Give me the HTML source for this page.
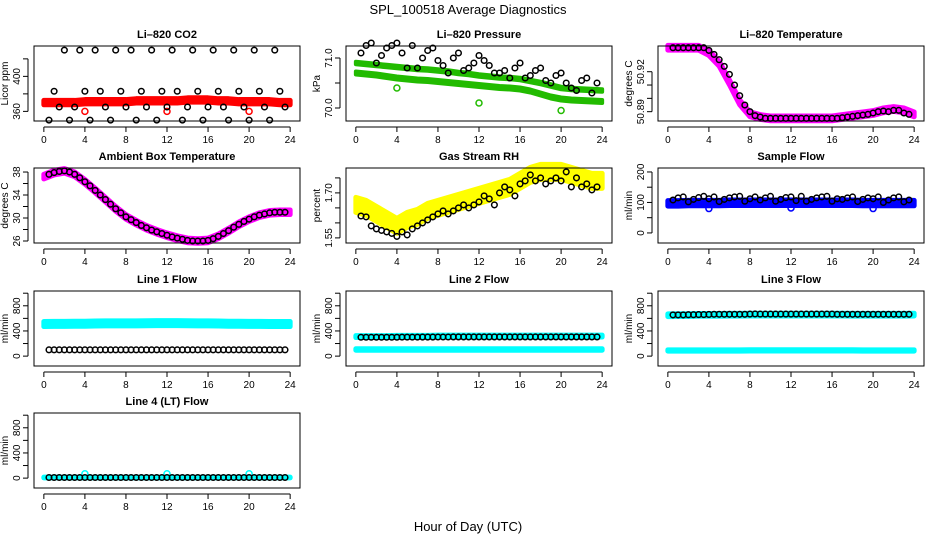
<!DOCTYPE html>
<html><head><meta charset="utf-8"><style>
html,body{margin:0;padding:0;background:#fff;}
svg{display:block;font-family:"Liberation Sans",sans-serif;}
</style></head><body>
<svg id="fig" width="936" height="540" viewBox="0 0 936 540" xmlns="http://www.w3.org/2000/svg">
<text x="468" y="14" text-anchor="middle" font-size="13">SPL_100518  Average Diagnostics</text>
<text x="468" y="531" text-anchor="middle" font-size="13">Hour of Day (UTC)</text>
</svg>
<script>
const hourTicks = [0,4,8,12,16,20,24];
const bandHours = [0,1,2,3,4,5,6,7,8,9,10,11,12,13,14,15,16,17,18,19,20,21,22,23,24];
const dotHours = [0.5,1,1.5,2,2.5,3,3.5,4,4.5,5,5.5,6,6.5,7,7.5,8,8.5,9,9.5,10,10.5,11,11.5,12,12.5,13,13.5,14,14.5,15,15.5,16,16.5,17,17.5,18,18.5,19,19.5,20,20.5,21,21.5,22,22.5,23,23.5];
const outlierHours = [4,12,20];

// CO2
const co2Band = [370,370,370,370,371,371,371,371,371,372,372,372,372,372,373,373,373,372,372,371,371,371,371,370,370];
const co2Dots = [350,383,365,430,350,365,430,383,350,430,383,365,350,430,383,365,430,350,383,365,430,350,383,365,430,383,350,365,430,383,350,365,430,383,365,350,430,383,365,350,430,383,365,350,430,383,365];
const co2Out = [360,360,360];
// Pressure
const presBandA = [70.9,70.88,70.86,70.84,70.82,70.8,70.78,70.77,70.75,70.73,70.7,70.68,70.65,70.63,70.61,70.6,70.58,70.54,70.5,70.45,70.4,70.38,70.37,70.36,70.35];
const presBandB = [70.7,70.68,70.66,70.63,70.6,70.58,70.56,70.55,70.53,70.51,70.49,70.47,70.45,70.43,70.41,70.4,70.38,70.34,70.28,70.22,70.18,70.16,70.15,70.14,70.13];
const presDots = [71.1,71.25,71.3,70.9,71.05,71.2,71.25,71.3,71.1,70.8,71.25,70.8,71.0,71.15,71.2,70.95,70.85,70.7,71.0,71.1,70.75,70.8,70.9,71.05,70.95,70.85,70.7,70.7,70.75,70.6,70.8,70.9,70.6,70.65,70.75,70.8,70.55,70.5,70.65,70.7,70.5,70.4,70.35,70.55,70.6,70.3,70.5];
const presOut = [70.4,70.1,69.95];
// Li-820 temperature
const ltBand = [50.938,50.938,50.938,50.938,50.934,50.926,50.912,50.897,50.888,50.886,50.885,50.885,50.885,50.885,50.885,50.885,50.885,50.886,50.887,50.888,50.889,50.891,50.892,50.891,50.888];
const ltDots = [50.938,50.938,50.938,50.938,50.938,50.938,50.938,50.936,50.933,50.929,50.924,50.918,50.910,50.902,50.895,50.890,50.887,50.886,50.885,50.885,50.885,50.885,50.885,50.885,50.885,50.885,50.885,50.885,50.885,50.885,50.885,50.885,50.885,50.8855,50.886,50.8865,50.887,50.8875,50.888,50.889,50.890,50.8905,50.890,50.891,50.891,50.889,50.888];
// Ambient box temperature
const ambBand = [37.2,37.9,38.2,37.6,36.3,34.8,33.2,31.6,30.2,29.2,28.3,27.6,27.0,26.5,26.1,26.0,26.1,26.8,27.8,28.9,29.8,30.5,30.9,31.0,31.0];
const ambDots = [37.6,37.9,38.1,38.2,38.0,37.6,37.0,36.3,35.6,34.8,34.0,33.2,32.4,31.6,30.9,30.2,29.7,29.2,28.7,28.3,27.9,27.6,27.3,27.0,26.7,26.5,26.3,26.1,26.0,26.0,26.0,26.1,26.4,26.8,27.3,27.8,28.4,28.9,29.4,29.8,30.2,30.5,30.7,30.9,31.0,31.0,31.0];
// Gas stream RH
const rhBand = [1.66,1.65,1.63,1.61,1.59,1.61,1.62,1.64,1.65,1.66,1.67,1.68,1.69,1.70,1.71,1.72,1.74,1.76,1.77,1.77,1.77,1.76,1.75,1.74,1.74];
const rhDots = [1.623,1.62,1.59,1.58,1.575,1.57,1.565,1.555,1.57,1.56,1.58,1.59,1.6,1.61,1.62,1.63,1.64,1.63,1.64,1.65,1.66,1.65,1.66,1.67,1.69,1.68,1.66,1.7,1.72,1.71,1.69,1.73,1.74,1.76,1.74,1.75,1.73,1.74,1.75,1.74,1.77,1.72,1.75,1.72,1.73,1.71,1.72];
// Sample flow
const sfBand = [97,97,98,98,98,98,99,99,99,99,99,99,99,99,99,99,99,99,99,98,98,98,98,98,98];
const sfDots = [108,115,118,102,110,116,120,112,118,103,110,115,118,120,104,112,118,108,115,120,104,110,116,118,106,120,104,110,115,118,120,104,112,110,115,118,103,110,115,112,118,100,108,115,118,102,108];
const sfOut = [80,82,80];
// Line 1
const l1Band = [510,512,512,515,515,518,520,520,520,520,522,525,525,525,522,520,520,518,515,515,512,512,510,510,510];
const l1Dots = [100,100,100,100,100,100,100,100,100,100,100,100,100,100,100,100,100,100,100,100,100,100,100,100,100,100,100,100,100,100,100,100,100,100,100,100,100,100,100,100,100,100,100,100,100,100,100];
// Line 2
const l2Low = [105,105,105,105,105,105,105,105,105,105,105,105,105,105,105,105,105,105,105,105,105,105,105,105,105];
const l2High = [310,310,310,310,315,315,315,315,318,318,318,318,318,318,318,318,318,318,318,318,318,318,318,318,318];
const l2Dots = [300,300,300,300,300,300,300,300,302,302,302,302,303,303,303,304,304,304,305,305,305,305,305,305,305,305,305,305,305,305,305,305,305,305,305,305,305,305,305,305,305,305,305,305,305,305,305];
// Line 3
const l3High = [650,652,652,655,655,656,658,658,660,660,660,660,660,660,660,660,660,660,658,658,658,658,658,658,660];
const l3Low = [90,90,90,90,90,90,90,90,92,92,92,92,92,92,92,92,92,92,92,90,90,90,90,90,90];
const l3Dots = [655,655,655,658,658,660,660,662,665,665,665,665,665,665,665,668,670,668,668,668,668,668,668,668,668,668,668,668,668,668,668,668,665,665,665,665,665,665,665,665,665,665,665,665,665,665,665];
// Line 4
const l4Band = [10,10,10,10,10,10,10,10,10,10,10,10,10,10,10,10,10,10,10,10,10,10,10,10,10];
const l4Dots = [10,10,10,10,10,10,10,10,10,10,10,10,10,10,10,10,10,10,10,10,10,10,10,10,10,10,10,10,10,10,10,10,10,10,10,10,10,10,10,10,10,10,10,10,10,10,10];
const l4Out = [70,70,70];

const svg = document.getElementById('fig');
const NS = 'http://www.w3.org/2000/svg';
function mk(tag, attrs, parent){const e=document.createElementNS(NS,tag);for(const k in attrs)e.setAttribute(k,attrs[k]);(parent||svg).appendChild(e);return e;}

function panel(p){
  const g = mk('g',{});
  
  
  const L=p.x, T=p.y, W=266, H=75;
  const pad = W/1.08*0.04;
  const xs = h => L + pad + h*(W-2*pad)/24;
  const ys = v => T + H - (v - p.ymin)/(p.ymax - p.ymin)*H;
  (p.bands||[]).forEach(b=>{
    let pts=[];
    for(let i=0;i<bandHours.length&&i<b.c.length;i++) pts.push(xs(bandHours[i])+','+ys(b.c[i]+b.hw));
    for(let i=Math.min(bandHours.length,b.c.length)-1;i>=0;i--) pts.push(xs(bandHours[i])+','+ys(b.c[i]-b.hw));
    const pg = mk('polygon',{points:pts.join(' '),fill:b.col,stroke:b.col,'stroke-width':(b.sw||5),'stroke-linejoin':'round'},g);
    
    
  });
  (p.outs||[]).forEach(o=>{
    for(let i=0;i<outlierHours.length&&i<o.v.length;i++){
      const c = mk('circle',{cx:xs(outlierHours[i]),cy:ys(o.v[i]),r:3,fill:'none',stroke:o.col,'stroke-width':1.5},g);
      
      
    }
  });
  if(p.dots){
    for(let i=0;i<dotHours.length&&i<p.dots.length;i++){
      const c = mk('circle',{cx:xs(dotHours[i]),cy:ys(p.dots[i]),r:2.8,fill:'none',stroke:'#000','stroke-width':1.5},g);
      
      
    }
  }
  const box = mk('rect',{x:L,y:T,width:W,height:H,fill:'none',stroke:'#000','stroke-width':1},g);
  
  
  const t = mk('text',{x:L+W/2,y:T-8,'text-anchor':'middle','font-size':11,'font-weight':'bold'},g);
  t.textContent = p.title;
  
  
  const xa = mk('g',{},g);
  
  
  mk('line',{x1:xs(0),x2:xs(24),y1:T+H+6,y2:T+H+6,stroke:'#000'},xa);
  hourTicks.forEach(h=>{
    mk('line',{x1:xs(h),x2:xs(h),y1:T+H+6,y2:T+H+11,stroke:'#000'},xa);
    const tl = mk('text',{x:xs(h),y:T+H+22,'text-anchor':'middle','font-size':10},xa);
    tl.textContent = h;
    
    
  });
  const ya = mk('g',{},g);
  
  
  const tk = p.ticks;
  mk('line',{x1:L-6,x2:L-6,y1:ys(tk[0]),y2:ys(tk[tk.length-1]),stroke:'#000'},ya);
  tk.forEach(v=>mk('line',{x1:L-11,x2:L-6,y1:ys(v),y2:ys(v),stroke:'#000'},ya));
  p.labels.forEach(v=>{
    const tl = mk('text',{x:L-14,y:ys(v),'text-anchor':'middle','font-size':10,transform:`rotate(-90 ${L-14} ${ys(v)})`},ya);
    tl.textContent = p.fmt ? v.toFixed(p.fmt) : v;
    
    
  });
  const yl = mk('text',{x:L-26,y:T+H/2,'text-anchor':'middle','font-size':10,transform:`rotate(-90 ${L-26} ${T+H/2})`},ya);
  yl.textContent = p.ylab;
  
  
}

const cols=[34,346,658], rows=[46,168,291,413];
const flowTicks=[0,200,400,600,800,1000], flowLab=[0,400,800];
panel({name:'co2-panel',title:'Li\u2013820 CO2',x:cols[0],y:rows[0],ymin:349,ymax:434.7,ticks:[360,380,400,420],labels:[360,400],ylab:'Licor ppm',
  bands:[{c:co2Band,hw:2.5,col:'#ff0000'}],outs:[{v:co2Out,col:'#ff0000'}],dots:co2Dots});
panel({name:'pressure-panel',title:'Li\u2013820 Pressure',x:cols[1],y:rows[0],ymin:69.74,ymax:71.24,ticks:[70.0,70.5,71.0],labels:[70.0,71.0],fmt:1,ylab:'kPa',
  bands:[{c:presBandA,hw:0.025,col:'#22bb00',sw:4},{c:presBandB,hw:0.03,col:'#22bb00',sw:4}],outs:[{v:presOut,col:'#22bb00'}],dots:presDots});
panel({name:'licor-temp-panel',title:'Li\u2013820 Temperature',x:cols[2],y:rows[0],ymin:50.883,ymax:50.9393,ticks:[50.89,50.9,50.91,50.92],labels:[50.89,50.92],fmt:2,ylab:'degrees C',
  bands:[{c:ltBand,hw:0.0018,col:'#ff00ff'}],dots:ltDots});
panel({name:'ambient-temp-panel',title:'Ambient Box Temperature',x:cols[0],y:rows[1],ymin:25.65,ymax:38.7,ticks:[26,28,30,32,34,36,38],labels:[26,30,34,38],ylab:'degrees C',
  bands:[{c:ambBand,hw:0.4,col:'#ff00ff'}],dots:ambDots});
panel({name:'gas-rh-panel',title:'Gas Stream RH',x:cols[1],y:rows[1],ymin:1.533,ymax:1.783,ticks:[1.55,1.6,1.65,1.7,1.75],labels:[1.55,1.70],fmt:2,ylab:'percent',
  bands:[{c:rhBand,hw:0.025,col:'#ffff00'}],dots:rhDots});
panel({name:'sample-flow-panel',title:'Sample Flow',x:cols[2],y:rows[1],ymin:-33,ymax:213,ticks:[0,50,100,150,200],labels:[0,100,200],ylab:'ml/min',
  bands:[{c:sfBand,hw:9,col:'#0000ff'}],outs:[{v:sfOut,col:'#0000ff'}],dots:sfDots});
panel({name:'line1-flow-panel',title:'Line 1 Flow',x:cols[0],y:rows[2],ymin:-157,ymax:1035,ticks:flowTicks,labels:flowLab,ylab:'ml/min',
  bands:[{c:l1Band,hw:40,col:'#00ffff'}],dots:l1Dots});
panel({name:'line2-flow-panel',title:'Line 2 Flow',x:cols[1],y:rows[2],ymin:-157,ymax:1035,ticks:flowTicks,labels:flowLab,ylab:'ml/min',
  bands:[{c:l2Low,hw:12,col:'#00ffff'},{c:l2High,hw:15,col:'#00ffff'}],dots:l2Dots});
panel({name:'line3-flow-panel',title:'Line 3 Flow',x:cols[2],y:rows[2],ymin:-157,ymax:1035,ticks:flowTicks,labels:flowLab,ylab:'ml/min',
  bands:[{c:l3High,hw:22,col:'#00ffff'},{c:l3Low,hw:10,col:'#00ffff'}],dots:l3Dots});
panel({name:'line4-flow-panel',title:'Line 4 (LT) Flow',x:cols[0],y:rows[3],ymin:-157,ymax:1035,ticks:flowTicks,labels:flowLab,ylab:'ml/min',
  bands:[{c:l4Band,hw:6,col:'#00ffff'}],outs:[{v:l4Out,col:'#00ffff'}],dots:l4Dots});
</script>
</body></html>
